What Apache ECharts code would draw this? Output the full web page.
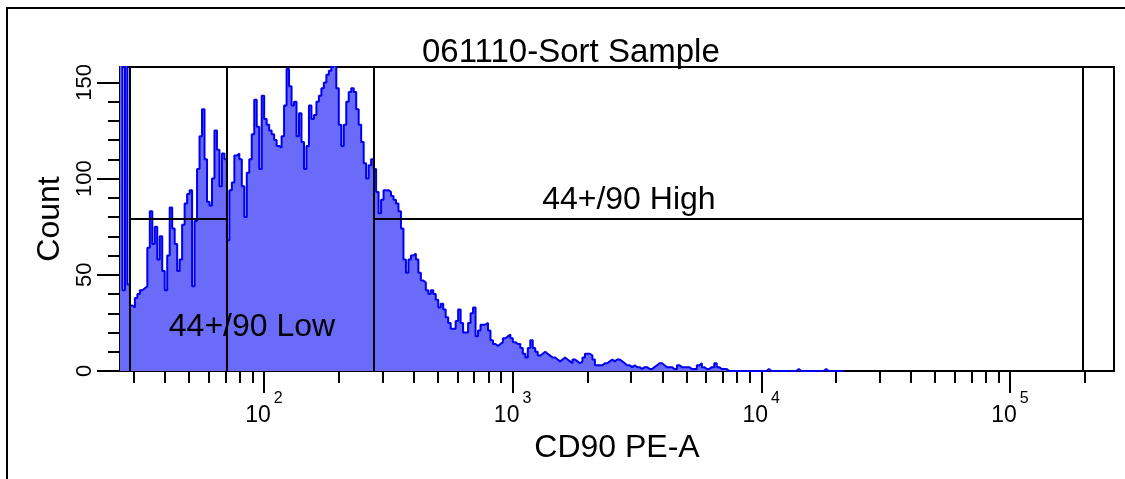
<!DOCTYPE html>
<html>
<head>
<meta charset="utf-8">
<script src="https://cdn.jsdelivr.net/npm/echarts@6/dist/echarts.min.js"></script>
<style>
  html, body { margin: 0; padding: 0; background: #fff; }
  #chart { width: 1125px; height: 479px; }
</style>
</head>
<body>
<div id="chart"></div>
<script>
// ---- data ----
const title = '061110-Sort Sample';
const xAxisName = 'CD90 PE-A';
const yAxisName = 'Count';
// histogram bins: equal width on a log10 scale
const binStartLog10 = 1.421;     // left edge of first bin (log10 of channel value)
const binWidthLog10 = 0.01;      // bin width in decades
const counts = [
  200, 42, 200, 45, 34, 33, 38, 40, 42, 43, 44,
  64, 83, 66, 75, 58, 70, 52, 42, 60, 85,
  74, 66, 52, 58, 76, 87, 92, 94, 44, 78,
  105, 122, 136, 110, 88, 86, 100, 125, 115, 96,
  113, 110, 68, 94, 98, 112, 113, 110, 96, 80,
  103, 110, 123, 141, 127, 105, 143, 131, 128, 125,
  123, 120, 117, 116, 122, 138, 157, 148, 138,
  140, 122, 134, 119, 105, 117, 138, 131, 133, 140, 143,
  147, 150, 154, 156, 158, 160, 147, 128, 117, 128,
  140, 145, 147, 145, 136, 128, 119, 108, 100, 107,
  110, 105, 93, 82, 89, 94, 94, 93, 91, 89,
  87, 83, 74, 58, 51, 58, 60, 61, 58, 51,
  47, 46, 42, 40, 42, 40, 37, 33, 35, 32,
  28, 25, 22, 22, 26, 32, 25, 20, 20,
  25, 30, 33, 18, 21, 24, 24, 25, 21, 16, 14,
  13, 14, 15, 17, 18, 19, 17, 15, 14, 14,
  12, 9, 7, 12, 16, 12, 10, 8, 9, 10,
  9, 8, 7, 7, 6, 5, 6, 7, 6, 5,
  4, 6, 5, 4, 5, 7, 9, 9, 8, 6,
  3, 3, 3, 4, 4, 5, 6, 5, 6, 6,
  5, 4, 3, 3, 2, 3, 2, 2, 1, 2,
  2, 1, 1, 2, 3, 4, 4, 3, 2, 2,
  2, 1, 1, 3, 2, 2, 2, 2, 1, 1,
  1, 3, 4, 2, 1, 1, 2, 2, 4, 2,
  1, 1, 1, 0, 0, 0, 0, 0, 0, 0,
  0, 0, 0, 0, 0, 0, 0, 0, 0, 1,
  0, 0, 0, 0, 0, 0, 0, 0, 0, 0,
  0, 1, 0, 0, 0, 0, 0, 0, 0, 0,
  0, 0, 1, 0, 0, 0, 0, 0, 0, 0
];
// axis ranges
const xMinValue = 26.37;
const xMaxValue = 262144;
const yMin = 0;
const yMax = 158;
// ticks
const xMajorTicks = [100, 1000, 10000, 100000];
const xMinorTicks = [30, 40, 50, 60, 70, 80, 90,
  200, 300, 400, 500, 600, 700, 800, 900,
  2000, 3000, 4000, 5000, 6000, 7000, 8000, 9000,
  20000, 30000, 40000, 50000, 60000, 70000, 80000, 90000, 200000];
const yMajorTicks = [0, 50, 100, 150];
const yMinorTicks = [10, 20, 30, 40, 60, 70, 80, 90, 110, 120, 130, 140];
// gates
const gateVerticalX = [28.9, 70.8, 276.9, 196500];
const gateLevel = 79;
const gateSegments = [[28.9, 70.8], [276.9, 196500]];
const gateLabels = ['44+/90 High', '44+/90 Low'];
const gateLabelX = [2935, 89.5];
const gateLabelY = [88.9, 22.9];

// ---- build ----
const L = v => Math.log10(v);
const histData = counts.map((c, i) => [binStartLog10 + i * binWidthLog10, c]);
histData.push([binStartLog10 + counts.length * binWidthLog10, 0]);

const FONT = 'Liberation Sans, Arial, sans-serif';
const BLACK = '#000';

const markLineData = [];
gateVerticalX.forEach(x => markLineData.push([{coord: [L(x), yMin]}, {coord: [L(x), yMax]}]));
gateSegments.forEach(s => markLineData.push([{coord: [L(s[0]), gateLevel]}, {coord: [L(s[1]), gateLevel]}]));

const chart = echarts.init(document.getElementById('chart'), null, {renderer: 'canvas'});
chart.setOption({
  animation: false,
  backgroundColor: '#fff',
  title: {
    text: title, left: 417, top: 31,
    textStyle: {fontFamily: FONT, fontSize: 33, fontWeight: 'normal', color: BLACK}
  },
  graphic: [{
    type: 'rect', shape: {x: 7, y: 8, width: 1200, height: 600},
    style: {fill: 'none', stroke: BLACK, lineWidth: 2}, silent: true
  }],
  grid: {left: 120, right: 11, top: 67, bottom: 108, show: true,
    borderColor: BLACK, borderWidth: 2, backgroundColor: 'transparent'},
  xAxis: [{
    type: 'value', min: L(xMinValue), max: L(xMaxValue), position: 'bottom',
    name: xAxisName, nameLocation: 'middle', nameGap: 51,
    nameTextStyle: {fontFamily: FONT, fontSize: 32, color: BLACK},
    axisLine: {onZero: false, lineStyle: {color: BLACK, width: 2}},
    axisTick: {customValues: xMajorTicks.map(L), length: 22, lineStyle: {color: BLACK, width: 2}},
    axisLabel: {
      customValues: xMajorTicks.map(L), margin: 20,
      formatter: v => '{b|10}{s|' + Math.round(v) + '}',
      rich: {
        b: {fontFamily: FONT, fontSize: 23, color: BLACK, lineHeight: 36, verticalAlign: 'bottom'},
        s: {fontFamily: FONT, fontSize: 16, color: BLACK, lineHeight: 12, verticalAlign: 'top',
            padding: [0, 0, 0, 3]}
      }
    },
    splitLine: {show: false}
  }, {
    type: 'value', min: L(xMinValue), max: L(xMaxValue), position: 'bottom',
    axisLine: {show: false, onZero: false},
    axisTick: {customValues: xMinorTicks.map(L), length: 12, lineStyle: {color: BLACK, width: 2}},
    axisLabel: {show: false},
    splitLine: {show: false}
  }],
  yAxis: [{
    type: 'value', min: yMin, max: yMax, position: 'left',
    name: yAxisName, nameLocation: 'middle', nameGap: 51,
    nameTextStyle: {fontFamily: FONT, fontSize: 32, color: BLACK},
    axisLine: {show: true, onZero: false, lineStyle: {color: BLACK, width: 2}},
    axisTick: {show: true, customValues: yMajorTicks, length: 23, lineStyle: {color: BLACK, width: 2}},
    axisLabel: {customValues: yMajorTicks, rotate: 90, margin: 24,
      fontFamily: FONT, fontSize: 22, color: BLACK},
    splitLine: {show: false}
  }, {
    type: 'value', min: yMin, max: yMax, position: 'left',
    axisLine: {show: false, onZero: false},
    axisTick: {show: true, customValues: yMinorTicks, length: 12, lineStyle: {color: BLACK, width: 2}},
    axisLabel: {show: false},
    splitLine: {show: false}
  }],
  series: [{
    type: 'line', name: 'Count', xAxisIndex: 0, yAxisIndex: 0,
    data: histData, step: 'end', showSymbol: false, symbol: 'none',
    lineStyle: {color: '#0000f0', width: 2},
    areaStyle: {color: '#6b6bfa', opacity: 1},
    clip: true, z: 2,
    markLine: {
      silent: true, symbol: ['none', 'none'], animation: false,
      lineStyle: {color: BLACK, width: 2, type: 'solid'},
      label: {show: false},
      data: markLineData
    }
  }, {
    type: 'scatter', xAxisIndex: 0, yAxisIndex: 0, symbolSize: 0, silent: true, z: 5,
    itemStyle: {opacity: 1},
    data: gateLabels.map((t, i) => ({value: [L(gateLabelX[i]), gateLabelY[i]], name: t})),
    label: {show: true, position: 'inside', formatter: p => p.name, opacity: 1,
      fontFamily: FONT, fontSize: 32, color: BLACK}
  }]
});
</script>
</body>
</html>
